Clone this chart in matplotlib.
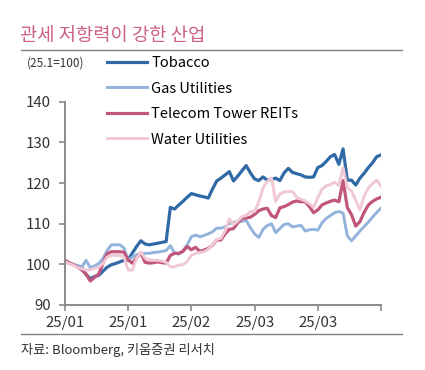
import matplotlib
matplotlib.use("Agg")
import matplotlib.pyplot as plt
from matplotlib.lines import Line2D

plt.rcParams['font.family'] = ['Noto Sans CJK KR', 'DejaVu Sans']

tick_labels = ['25/01', '25/01', '25/02', '25/03', '25/03', '']
tick_pos = [0, 15, 30, 45, 60, 75]

tobacco = [100.6, 100.3, 99.9, 99.5, 99.2, 97.5, 96.5, 97.0, 97.3, 98.3,
           99.3, 99.9, 100.2, 100.6, 101.0, 101.2, 102.8, 104.4, 105.8, 105.0,
           104.8, 105.0, 105.2, 105.4, 105.6, 114.0, 113.6, 114.6, 115.5, 116.5,
           117.4, 117.1, 116.8, 116.6, 116.3, 118.5, 120.5, 121.2, 122.0, 122.8,
           120.5, 121.7, 123.0, 124.3, 122.5, 121.0, 120.6, 121.5, 120.7, 120.9,
           121.2, 120.6, 122.5, 123.6, 122.6, 122.3, 122.0, 121.5, 121.4, 121.5,
           123.8, 124.3, 125.3, 126.5, 127.0, 124.6, 128.4, 120.7, 120.7, 119.5,
           121.2, 122.4, 123.8, 125.0, 126.5, 126.9]

gas = [100.6, 100.3, 100.0, 99.7, 99.4, 101.0, 99.2, 99.6, 100.2, 101.4,
       103.4, 104.8, 104.8, 104.8, 104.0, 101.0, 101.8, 102.4, 102.6, 102.7,
       102.7, 102.9, 103.0, 103.2, 103.4, 104.6, 102.8, 102.5, 103.3, 104.8,
       106.8, 107.2, 106.8, 107.1, 107.5, 108.0, 108.9, 108.9, 109.2, 110.0,
       110.3, 110.5, 110.6, 110.8, 109.0, 107.5, 106.6, 108.6, 109.5, 110.0,
       107.8, 108.8, 109.8, 110.0, 109.2, 109.4, 109.6, 108.2, 108.5, 108.6,
       108.4, 110.2, 111.3, 112.0, 112.7, 113.0, 112.6, 107.0, 105.8, 107.0,
       108.2, 109.3, 110.4, 111.6, 112.8, 113.8]

telecom = [101.0, 100.4, 99.9, 99.3, 98.6, 97.6, 95.9, 96.8, 97.6, 100.2,
           102.6, 103.1, 103.1, 103.1, 103.0, 101.0, 100.3, 101.6, 102.8, 100.5,
           100.3, 100.4, 100.6, 100.4, 100.3, 102.2, 102.7, 102.7, 103.2, 104.4,
           103.6, 104.2, 103.2, 103.5, 103.9, 104.7, 106.0, 106.0, 107.5, 108.6,
           108.8, 110.2, 111.3, 111.4, 111.6, 112.3, 113.2, 113.6, 113.8, 112.0,
           111.5, 113.9, 114.2, 114.7, 115.3, 115.6, 115.4, 115.4, 114.2, 112.7,
           113.4, 114.6, 115.1, 115.5, 115.8, 115.4, 120.6, 114.0, 112.2, 109.4,
           110.5, 112.8, 114.6, 115.5, 116.1, 116.5]

water = [100.6, 100.2, 99.8, 99.2, 98.9, 98.6, 98.7, 99.0, 99.3, 100.2,
         101.8, 102.2, 102.2, 102.2, 101.8, 98.6, 98.6, 101.5, 103.0, 101.5,
         101.1, 101.0, 101.0, 100.8, 100.5, 99.4, 99.4, 99.8, 99.9, 100.7,
         102.2, 102.7, 102.9, 103.1, 103.7, 104.8, 106.1, 106.4, 108.2, 111.2,
         109.8, 110.6, 111.7, 112.0, 113.0, 113.0, 115.4, 118.8, 120.4, 121.3,
         115.5, 117.3, 117.8, 117.9, 117.9, 116.5, 116.0, 115.6, 114.9, 114.0,
         116.4, 118.5, 119.3, 119.6, 120.2, 119.4, 123.8, 118.9, 118.0, 115.8,
         113.4, 116.8, 118.8, 119.9, 120.7, 119.2]

series_names = ['Tobacco', 'Gas Utilities', 'Telecom Tower REITs', 'Water Utilities']
series_vals = [tobacco, gas, telecom, water]
colors = ['#2f6aa7', '#93b3dc', '#c2557b', '#f0c8d5']
widths = [2.3, 2.1, 2.3, 2.1]

W, H = 425, 370
fig = plt.figure(figsize=(W / 100, H / 100), dpi=100)
ax = fig.add_axes([65 / W, 1 - 305 / H, (381 - 65) / W, (305 - 101.7) / H])

x = list(range(len(tobacco)))
handles = []
for name, vals, c, lw in zip(series_names, series_vals, colors, widths):
    h, = ax.plot(x, vals, color=c, lw=lw, label=name, solid_joinstyle='round')
    handles.append(h)

ax.set_xlim(0, 75)
ax.set_ylim(90, 140)
ax.set_yticks([90, 100, 110, 120, 130, 140])
ax.set_xticks(tick_pos)
ax.set_xticklabels(tick_labels)
for s in ['top', 'right']:
    ax.spines[s].set_visible(False)
for s in ['left', 'bottom']:
    ax.spines[s].set_color('#8a8a8a')
    ax.spines[s].set_linewidth(1.4)
ax.tick_params(axis='both', colors='#8a8a8a', labelcolor='#333333',
               labelsize=10.8, length=4, width=1.2, direction='out', pad=3)
ax.tick_params(axis='y', pad=6)
ax.tick_params(axis='x', pad=4)
ax.patch.set_alpha(0)

fig.legend(handles=handles, labels=series_names, loc='upper left',
           bbox_to_anchor=(107 / W, 1 - 56 / H), frameon=False,
           fontsize=10.5, handlelength=2.75, handletextpad=0.3,
           labelspacing=0.79, borderpad=0, borderaxespad=0)

# title and rules
fig.text(20 / W, 1 - 35 / H, '관세 저항력이 강한 산업', color='#cc5f86',
         fontsize=13.5, va='center', ha='left')
fig.add_artist(Line2D([21 / W, 402 / W], [1 - 50 / H, 1 - 50 / H],
                      color='#808080', lw=1.0))
fig.text(27 / W, 1 - 63 / H, '(25.1=100)', fontsize=8.5, color='#333333',
         va='center', ha='left')
fig.add_artist(Line2D([21 / W, 402 / W], [1 - 334 / H, 1 - 334 / H],
                      color='#808080', lw=1.0))
fig.text(21 / W, 1 - 350 / H, '자료: Bloomberg, 키움증권 리서치', fontsize=9.5,
         color='#333333', va='center', ha='left')

fig.savefig('out.png', dpi=100)
